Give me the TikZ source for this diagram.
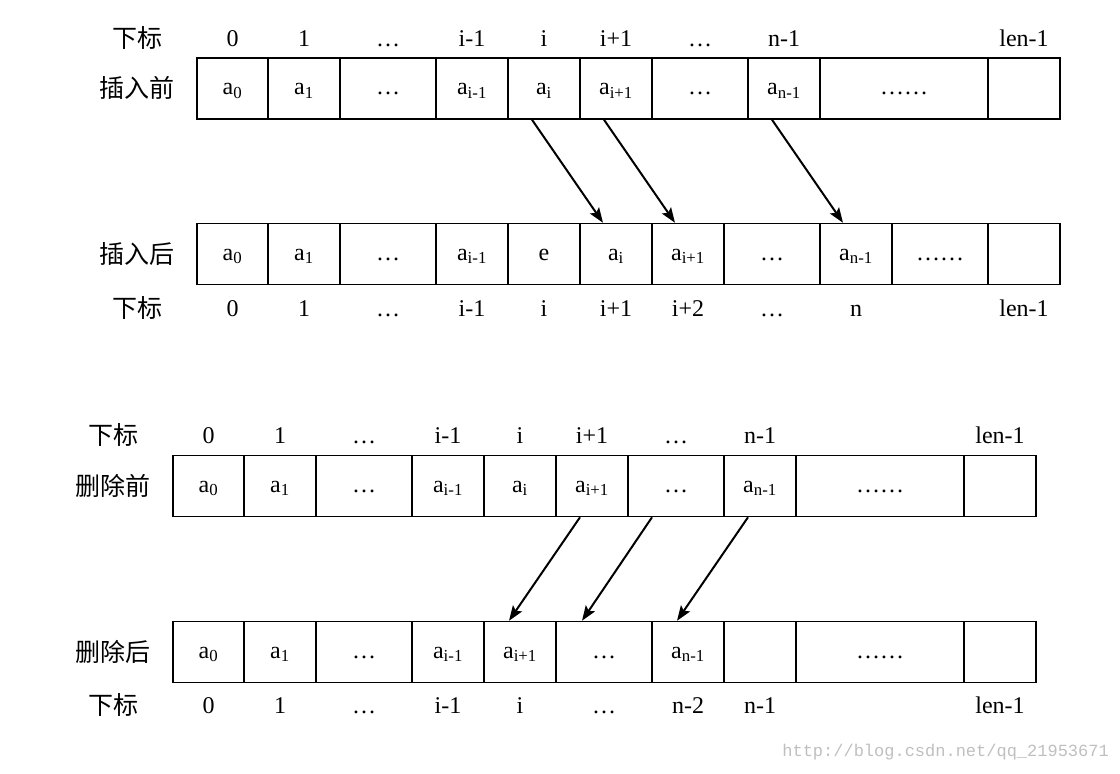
\documentclass[tikz,border=0pt]{standalone}
\usepackage{fontspec}
\setmainfont{Liberation Serif}
\newfontfamily\cjk{Noto Sans CJK SC}
\newfontfamily\urlfont{Liberation Mono}
\usetikzlibrary{arrows.meta}

\tikzset{
  cell/.style={draw, line width=1.5pt, minimum height=61pt, inner sep=0pt,
    text height=16pt, text depth=4pt},
  idx/.style={inner sep=0pt, anchor=base},
  rowname/.style={font=\cjk\fontsize{25}{28}\selectfont, inner sep=0pt},
  move/.style={line width=2pt, -{Stealth[length=15pt,width=11pt,inset=3pt]}}
}

\begin{document}
\begin{tikzpicture}[x=1pt, y=-1pt, font=\fontsize{24}{28}\selectfont]
  \useasboundingbox (0,0) rectangle (1120,774);

  % insert: before
  \foreach \n/\l/\r/\t in {1/197/268/{a\textsubscript{0}}, 2/268/340/{a\textsubscript{1}},
      3/340/436/{\ldots}, 4/436/508/{a\textsubscript{i-1}}, 5/508/580/{a\textsubscript{i}},
      6/580/652/{a\textsubscript{i+1}}, 7/652/748/{\ldots}, 8/748/820/{a\textsubscript{n-1}},
      9/820/988/{\ldots\ldots}, 10/988/1060/{}}
    \node[cell, minimum width={\r-\l}] (ib\n) at ({(\l+\r)/2},88.5) {\t};
  \foreach \n/\t in {1/0, 2/1, 3/\ldots, 4/i-1, 5/i, 6/i+1, 7/\ldots, 8/n-1, 10/len-1}
    \node[idx] (ibi\n) at (ib\n |- 0,46) {\t};
  \node[rowname] (ibidx) at (137,38) {下标};
  \node[rowname] (ibname) at (137,88) {插入前};

  % insert: after
  \foreach \n/\l/\r/\t in {1/197/268/{a\textsubscript{0}}, 2/268/340/{a\textsubscript{1}},
      3/340/436/{\ldots}, 4/436/508/{a\textsubscript{i-1}}, 5/508/580/{e},
      6/580/652/{a\textsubscript{i}}, 7/652/724/{a\textsubscript{i+1}}, 8/724/820/{\ldots},
      9/820/892/{a\textsubscript{n-1}}, 10/892/988/{\ldots\ldots}, 11/988/1060/{}}
    \node[cell, minimum width={\r-\l}] (ia\n) at ({(\l+\r)/2},254) {\t};
  \foreach \n/\t in {1/0, 2/1, 3/\ldots, 4/i-1, 5/i, 6/i+1, 7/i+2, 8/\ldots, 9/n, 11/len-1}
    \node[idx] (iai\n) at (ia\n |- 0,316) {\t};
  \node[rowname] (ianame) at (137,254) {插入后};
  \node[rowname] (iaidx) at (137,308) {下标};

  \draw[move] ([xshift=-12pt]ib5.south) -- ([xshift=-13pt]ia6.north);
  \draw[move] ([xshift=-12pt]ib6.south) -- ([xshift=-13pt]ia7.north);
  \draw[move] ([xshift=-12pt]ib8.south) -- ([xshift=-13pt]ia9.north);

  % delete: before
  \foreach \n/\l/\r/\t in {1/173/244/{a\textsubscript{0}}, 2/244/316/{a\textsubscript{1}},
      3/316/412/{\ldots}, 4/412/484/{a\textsubscript{i-1}}, 5/484/556/{a\textsubscript{i}},
      6/556/628/{a\textsubscript{i+1}}, 7/628/724/{\ldots}, 8/724/796/{a\textsubscript{n-1}},
      9/796/964/{\ldots\ldots}, 10/964/1036/{}}
    \node[cell, minimum width={\r-\l}] (db\n) at ({(\l+\r)/2},486) {\t};
  \foreach \n/\t in {1/0, 2/1, 3/\ldots, 4/i-1, 5/i, 6/i+1, 7/\ldots, 8/n-1, 10/len-1}
    \node[idx] (dbi\n) at (db\n |- 0,443) {\t};
  \node[rowname] (dbidx) at (113,435) {下标};
  \node[rowname] (dbname) at (113,486) {删除前};

  % delete: after
  \foreach \n/\l/\r/\t in {1/173/244/{a\textsubscript{0}}, 2/244/316/{a\textsubscript{1}},
      3/316/412/{\ldots}, 4/412/484/{a\textsubscript{i-1}}, 5/484/556/{a\textsubscript{i+1}},
      6/556/652/{\ldots}, 7/652/724/{a\textsubscript{n-1}}, 8/724/796/{},
      9/796/964/{\ldots\ldots}, 10/964/1036/{}}
    \node[cell, minimum width={\r-\l}] (da\n) at ({(\l+\r)/2},652) {\t};
  \foreach \n/\t in {1/0, 2/1, 3/\ldots, 4/i-1, 5/i, 6/\ldots, 7/n-2, 8/n-1, 10/len-1}
    \node[idx] (dai\n) at (da\n |- 0,713) {\t};
  \node[rowname] (daname) at (113,652) {删除后};
  \node[rowname] (daidx) at (113,705) {下标};

  \draw[move] ([xshift=-12pt]db6.south) -- ([xshift=-11pt]da5.north);
  \draw[move] ([xshift=-24pt]db7.south) -- ([xshift=-22pt]da6.north);
  \draw[move] ([xshift=-12pt]db8.south) -- ([xshift=-11pt]da7.north);

  \node[font=\urlfont\fontsize{17}{20}\selectfont, text=black!25, anchor=east, inner sep=0pt]
    (mark) at (1109,752) {http://blog.csdn.net/qq\_21953671};
\end{tikzpicture}
\end{document}
